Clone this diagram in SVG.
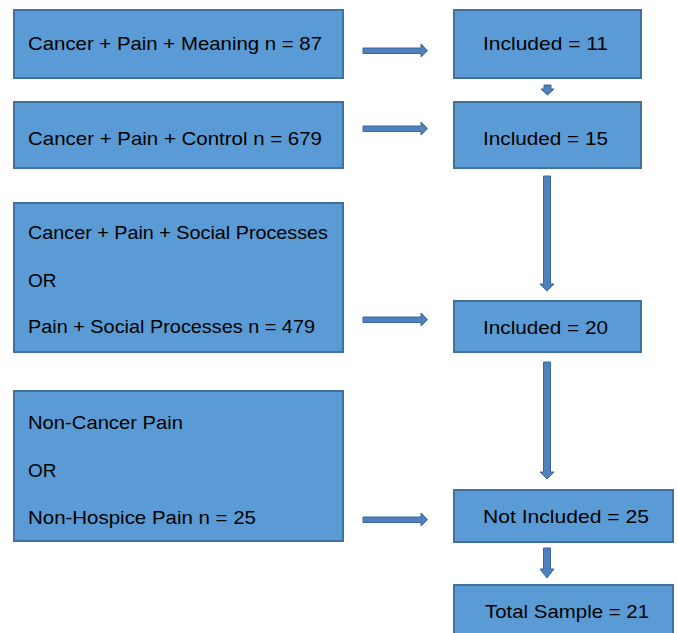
<svg xmlns="http://www.w3.org/2000/svg" width="678" height="633" viewBox="0 0 678 633">
<style>
.box{fill:#5B9BD5;stroke:#41719C;stroke-width:2}
.t{font-family:"Liberation Sans",Arial,sans-serif;font-size:19px;fill:#000}
.arr{fill:#4F81BD;stroke:#3A679C;stroke-width:1}
</style>
<rect x="0" y="0" width="678" height="633" fill="#fff"/>
<g id="a1"><rect class="box" x="14" y="10" width="329" height="68"/><text class="t" x="28" y="50" textLength="294" lengthAdjust="spacingAndGlyphs">Cancer + Pain + Meaning n = 87</text></g>
<g id="a2"><rect class="box" x="14" y="102" width="329" height="66"/><text class="t" x="28" y="145" textLength="294" lengthAdjust="spacingAndGlyphs">Cancer + Pain + Control n = 679</text></g>
<g id="a3"><rect class="box" x="14" y="203" width="329" height="149"/><text class="t" x="28" y="239" textLength="300" lengthAdjust="spacingAndGlyphs">Cancer + Pain + Social Processes</text><text class="t" x="28" y="287">OR</text><text class="t" x="28" y="333" textLength="287" lengthAdjust="spacingAndGlyphs">Pain + Social Processes n = 479</text></g>
<g id="a4"><rect class="box" x="14" y="391" width="329" height="150"/><text class="t" x="28" y="429" textLength="155" lengthAdjust="spacingAndGlyphs">Non-Cancer Pain</text><text class="t" x="28" y="477">OR</text><text class="t" x="28" y="524" textLength="228" lengthAdjust="spacingAndGlyphs">Non-Hospice Pain n = 25</text></g>
<g id="b1"><rect class="box" x="454" y="10" width="187" height="68"/><text class="t" x="483" y="50" textLength="125" lengthAdjust="spacingAndGlyphs">Included = 11</text></g>
<g id="b2"><rect class="box" x="454" y="102" width="187" height="66"/><text class="t" x="483" y="145" textLength="125" lengthAdjust="spacingAndGlyphs">Included = 15</text></g>
<g id="b3"><rect class="box" x="454" y="301" width="187" height="51"/><text class="t" x="483" y="334" textLength="125" lengthAdjust="spacingAndGlyphs">Included = 20</text></g>
<g id="b4"><rect class="box" x="454" y="490" width="219" height="52"/><text class="t" x="483" y="523" textLength="166" lengthAdjust="spacingAndGlyphs">Not Included = 25</text></g>
<g id="b5"><rect class="box" x="454" y="585" width="219" height="60"/><text class="t" x="485" y="618" textLength="164" lengthAdjust="spacingAndGlyphs">Total Sample = 21</text></g>
<g id="connectors">
<polygon class="arr" points="363,48 421,48 421,44 427.5,50.7 421,57 421,53.5 363,53.5"/>
<polygon class="arr" points="363,126 421,126 421,122 427.5,128.7 421,135 421,131.5 363,131.5"/>
<polygon class="arr" points="363,317 421,317 421,313 427.5,319.7 421,326 421,322.5 363,322.5"/>
<polygon class="arr" points="363,517 421,517 421,513 427.5,519.7 421,526 421,522.5 363,522.5"/>
<polygon class="arr" points="544,85 551,85 551,89 554,89 547.5,95 541,89 544,89"/>
<polygon class="arr" points="543.5,176 550.5,176 550.5,284 554,284 547,291 540,284 543.5,284"/>
<polygon class="arr" points="543.5,362 550.5,362 550.5,472 554,472 547,479 540,472 543.5,472"/>
<polygon class="arr" points="543.5,548 550.5,548 550.5,569 554,569 547,578 540,569 543.5,569"/>
</g>
</svg>
